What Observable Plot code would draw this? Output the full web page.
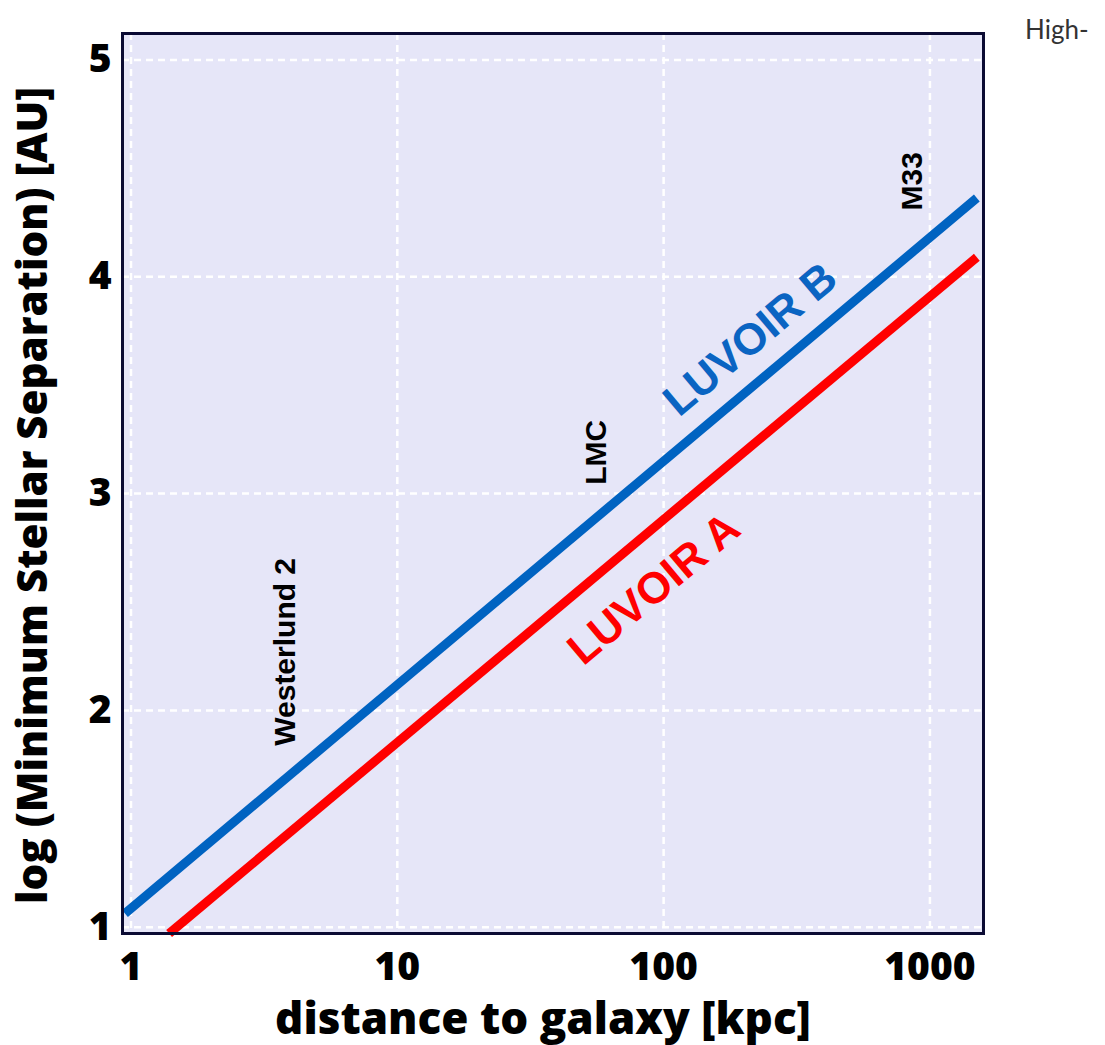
<!DOCTYPE html>
<html>
<head>
<meta charset="utf-8">
<script src="https://cdn.jsdelivr.net/npm/d3@7"></script>
<script src="https://cdn.jsdelivr.net/npm/@observablehq/plot@0.6"></script>
<style>
  body { margin: 0; background: white; }
  #wrap { position: relative; width: 1105px; height: 1045px; overflow: hidden; }
  #corner { position: absolute; left: 1025px; top: 13px; font-family: Lato, sans-serif; font-size: 26px; color: #333; white-space: nowrap; }
</style>
</head>
<body>
<div id="wrap"><div id="corner">High-</div></div>
<script>
// ---- data ----
const distanceTicks = [1, 10, 100, 1000];
const separationTicks = [1, 2, 3, 4, 5];

const luvoirA_distance = [1.39, 1500];
const luvoirA_separation = [0.971, 4.090];
const luvoirB_distance = [0.949, 1500];
const luvoirB_separation = [1.063, 4.363];

const targetNames = ["Westerlund 2", "LMC", "M33"];
const targetDistance = [3.8, 56, 856];
const targetLabelY = [2.27, 3.19, 4.44];

const seriesNames = ["LUVOIR B", "LUVOIR A"];
const seriesLabelX = [212, 92];
const seriesLabelY = [3.71, 2.56];
const seriesColors = ["#0a64c2", "#ff0000"];

const xTitle = "distance to galaxy [kpc]";
const yTitle = "log (Minimum Stellar Separation) [AU]";

// ---- build ----
const rowsA = luvoirA_distance.map((d, i) => ({d, s: luvoirA_separation[i]}));
const rowsB = luvoirB_distance.map((d, i) => ({d, s: luvoirB_separation[i]}));
const targets = targetNames.map((name, i) => ({name, d: targetDistance[i], y: targetLabelY[i]}));
const seriesLabels = seriesNames.map((name, i) => ({name, d: seriesLabelX[i], y: seriesLabelY[i], color: seriesColors[i]}));

const titleFont = "'Open Sans', Lato, sans-serif";

const chart = Plot.plot({
  width: 1105,
  height: 1045,
  marginLeft: 122,
  marginRight: 122,
  marginTop: 33,
  marginBottom: 112,
  x: {type: "log", domain: [0.929, 1589]},
  y: {domain: [0.971, 5.122]},
  style: {fontFamily: titleFont, background: "white", color: "black"},
  marks: [
    Plot.frame({fill: "#e6e6f8"}),
    Plot.gridX(distanceTicks, {stroke: "white", strokeOpacity: 1, strokeWidth: 2.5, strokeDasharray: "7,5"}),
    Plot.gridY(separationTicks, {stroke: "white", strokeOpacity: 1, strokeWidth: 2.5, strokeDasharray: "7,5"}),
    Plot.line(rowsB, {x: "d", y: "s", stroke: "#0063c1", strokeWidth: 9, strokeLinecap: "butt"}),
    Plot.line(rowsA, {x: "d", y: "s", stroke: "#ff0000", strokeWidth: 9, strokeLinecap: "butt"}),
    Plot.text(targets, {x: "d", y: "y", text: "name", rotate: -90, fontSize: 30, fontWeight: "bold", fontFamily: "'Liberation Sans', Arial, sans-serif", fill: "black"}),
    Plot.text(seriesLabels, {x: "d", y: "y", text: "name", rotate: -40, fontSize: 44, fontWeight: "bold", fontFamily: "'Liberation Sans', Arial, sans-serif", fill: "color"}),
    Plot.axisX(distanceTicks, {tickSize: 0, tickPadding: 19, fontSize: 39, fontWeight: 800, tickFormat: d => String(d), label: null}),
    Plot.axisY(separationTicks, {tickSize: 0, tickPadding: 11, fontSize: 39, fontWeight: 800, tickFormat: d => String(d), label: null}),
    Plot.text([xTitle], {frameAnchor: "bottom", lineAnchor: "middle", dx: -10, dy: 86, fontSize: 44, fontWeight: 800, fill: "black"}),
    Plot.text([yTitle], {frameAnchor: "left", textAnchor: "middle", lineAnchor: "middle", dx: -89, dy: 12, rotate: -90, fontSize: 42, fontWeight: 800, fill: "black"}),
    Plot.frame({stroke: "#0b0b33", strokeWidth: 3})
  ]
});
document.getElementById("wrap").prepend(chart);
</script>
</body>
</html>
